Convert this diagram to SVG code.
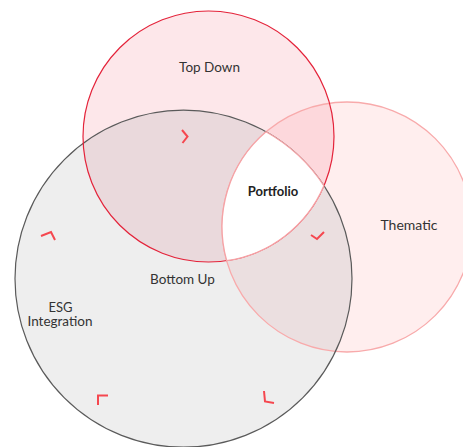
<svg xmlns="http://www.w3.org/2000/svg" width="463" height="447" viewBox="0 0 463 447">
<style>
  .lbl { font-family: Lato, "Open Sans", "Liberation Sans", sans-serif; font-size: 13.5px; fill: #333; text-anchor: middle; }
  .bold { font-weight: bold; fill: #222; font-size: 13px; }
  .sm { font-size: 13px; }
  .chev { fill: none; stroke: #f5474f; stroke-width: 2; stroke-linejoin: miter; stroke-linecap: butt; }
</style>
<defs>
  <circle id="cT" cx="208.5" cy="136.5" r="125.5"/>
  <circle id="cB" cx="183.5" cy="278.7" r="168.5"/>
  <circle id="cH" cx="347" cy="227" r="125"/>
  <clipPath id="clipT"><use href="#cT"/></clipPath>
  <clipPath id="clipB"><use href="#cB"/></clipPath>
</defs>
<rect width="463" height="447" fill="#ffffff"/>
<g id="fills">
  <use href="#cT" fill="#fde7ea"/>
  <use href="#cB" fill="#eeeeee"/>
  <use href="#cH" fill="#ffeeee"/>
  <use href="#cB" fill="#ead9dc" clip-path="url(#clipT)"/>
  <use href="#cH" fill="#fdd8dc" clip-path="url(#clipT)"/>
  <use href="#cH" fill="#ebdfe0" clip-path="url(#clipB)"/>
</g>
<g id="node-thematic">
  <use href="#cH" fill="none" stroke="#f8aaab" stroke-width="1.3"/>
  <text class="lbl" x="409" y="230" style="font-size:14px">Thematic</text>
</g>
<g id="node-bottom-up">
  <use href="#cB" fill="none" stroke="#5a5a5a" stroke-width="1.2"/>
  <text class="lbl" x="182.5" y="284">Bottom Up</text>
</g>
<g id="node-top-down">
  <use href="#cT" fill="none" stroke="#e4233a" stroke-width="1.2"/>
  <text class="lbl" x="209.5" y="72">Top Down</text>
</g>
<g id="node-portfolio">
  <path d="M266,131.8 A168.5,168.5 0 0 1 323.9,185.7 A125.5,125.5 0 0 1 226.7,260.7 A125,125 0 0 1 266,131.8 Z" fill="#ffffff" stroke="#f5a3a6" stroke-width="1.3"/>
  <text class="lbl bold" x="273" y="196">Portfolio</text>
</g>
<g id="node-esg">
  <text class="lbl sm" x="60.5" y="311.5">ESG</text>
  <text class="lbl" x="60" y="326">Integration</text>
</g>
<g id="connectors">
  <polyline class="chev" points="182,130 187.5,136.5 182.5,143"/>
  <polyline class="chev" points="41,236 51,232 55,240"/>
  <polyline class="chev" points="311,235 317,239 324,232"/>
  <polyline class="chev" points="108,395.5 98,395.5 98,405"/>
  <polyline class="chev" points="264,391 265,401.5 274,403"/>
</g>
</svg>
